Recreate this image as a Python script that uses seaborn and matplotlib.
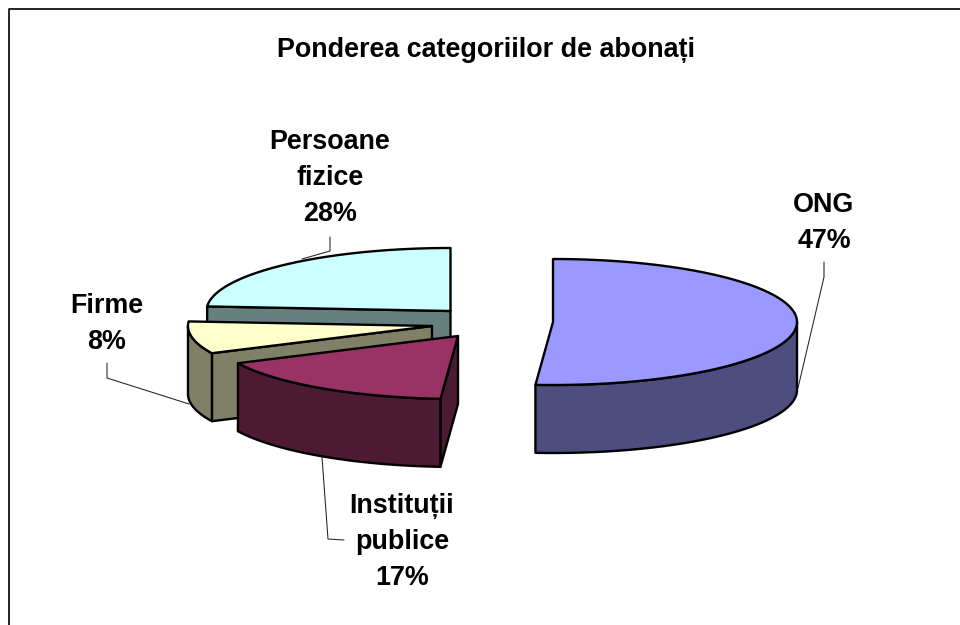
import numpy as np
import seaborn as sns
import matplotlib.pyplot as plt

# Datele graficului
categorii = ['ONG', 'Instituții\npublice', 'Firme', 'Persoane\nfizice']
ponderi = [47, 17, 8, 28]
titlu = 'Ponderea categoriilor de abonați'

culori = ['#9999FF', '#993366', '#FFFFCC', '#CCFFFF']

sns.set_theme(style='white')
plt.rcParams['font.family'] = ['Liberation Sans', 'DejaVu Sans']
paleta = sns.color_palette(culori)

# Geometria placintei 3D, in pixeli
centru = (470, 320)
rx, ry, adancime = 244, 63, 68
explodare = [(83, 2), (-12, 16), (-38, 6), (-19.5, -9)]
etichete_xy = [(824, 223), (402, 542), (107, 324), (330, 178)]
linii = [[(824, 262), (824, 277), (798, 388)],
         [(322, 457), (328, 539), (344, 540)],
         [(107, 363), (107, 378), (189, 404)],
         [(330, 237), (330, 251), (302, 259)]]


# Excel comprima partea din spate a placintei, deci unghiurile nu sunt liniare
def perspectiva(t):
    return t + np.interp(t, [0, 170, 230, 260, 360], [0, 15, 14, 15, 0])


def punct(apex, t):
    r = np.radians(t)
    return apex[0] + rx * np.sin(r), apex[1] - ry * np.cos(r)


def arc(apex, t0, t1):
    x, y = punct(apex, np.linspace(t0, t1, 120))
    return list(x), list(y)


fig, ax = plt.subplots(figsize=(9.6, 6.25), dpi=100)
ax.set_position([0, 0, 1, 1])
ax.set_xlim(0, 960)
ax.set_ylim(625, 0)
ax.axis('off')

# chenarul: doar sus si in stanga
ax.plot([9, 9, 960], [625, 9, 9], color='black', lw=1.2)

margini = np.cumsum([0] + ponderi) * 3.6
lw = 1.7

# se deseneaza din spate in fata
for i in [3, 2, 1, 0]:
    t0 = float(perspectiva(margini[i]))
    t1 = float(perspectiva(margini[i + 1]))
    apex = (centru[0] + explodare[i][0], centru[1] + explodare[i][1])
    sus = paleta[i]
    jos = tuple(np.array(sus) * 0.5)

    # peretii taiati
    for t, vizibil in [(t0, np.sin(np.radians(t0)) < -1e-6), (t1, np.sin(np.radians(t1)) > 1e-6)]:
        if vizibil:
            px, py = punct(apex, t)
            ax.fill([apex[0], px, px, apex[0]],
                    [apex[1], py, py + adancime, apex[1] + adancime],
                    facecolor=jos, edgecolor='black', lw=lw, joinstyle='round')

    # peretele exterior
    a0, a1 = max(t0, 90), min(t1, 270)
    if a1 > a0:
        x, y = arc(apex, a0, a1)
        ax.fill(x + x[::-1], y + [v + adancime for v in y[::-1]],
                facecolor=jos, edgecolor='black', lw=lw, joinstyle='round')

    # fata de sus
    x, y = arc(apex, t0, t1)
    ax.fill([apex[0]] + x, [apex[1]] + y, facecolor=sus, edgecolor='black', lw=lw, joinstyle='round')

# liniile de legatura si etichetele
for i, nume in enumerate(categorii):
    xs, ys = zip(*linii[i])
    ax.plot(xs, ys, color='#222222', lw=0.75, zorder=1)
    ax.text(etichete_xy[i][0], etichete_xy[i][1], f'{nume}\n{ponderi[i]}%',
            ha='center', va='center', fontsize=19.4, fontweight='bold',
            color='black', linespacing=1.48)

ax.text(486, 50, titlu, ha='center', va='center', fontsize=19.4, fontweight='bold', color='black')

fig.savefig('out.png', dpi=100)
